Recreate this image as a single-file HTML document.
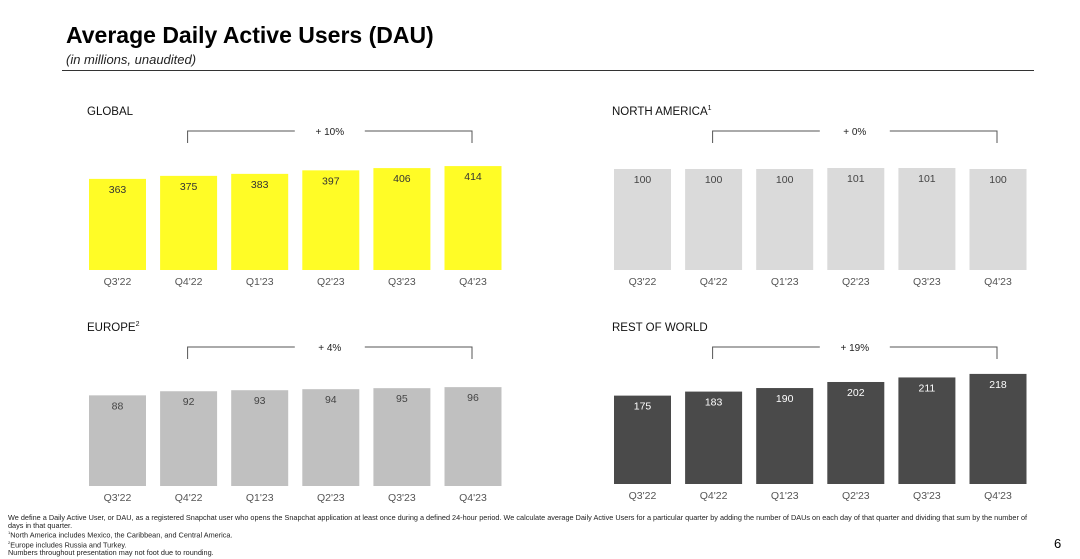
<!DOCTYPE html>
<html><head><meta charset="utf-8"><style>
body{margin:0;width:1080px;height:559px;background:#fff;font-family:"Liberation Sans",sans-serif;overflow:hidden;position:relative}
.t{position:absolute;white-space:nowrap}
</style></head><body>
<div class="t" style="left:66px;top:22px;font-size:23px;font-weight:bold;color:#000">Average Daily Active Users (DAU)</div>
<div class="t" style="left:66px;top:52px;font-size:13px;font-style:italic;color:#222">(in millions, unaudited)</div>
<div style="position:absolute;left:62px;top:70px;width:972px;height:1px;background:#333"></div>
<svg id="chart" width="1080" height="559" style="position:absolute;left:0;top:0" xmlns="http://www.w3.org/2000/svg"></svg>
<div class="t" style="left:8px;top:514px;width:1040px;font-size:7.3px;line-height:7.6px;color:#222">We define a Daily Active User, or DAU, as a registered Snapchat user who opens the Snapchat application at least once during a defined 24-hour period. We calculate average Daily Active Users for a particular quarter by adding the number of DAUs on each day of that quarter and dividing that sum by the number of<br>days in that quarter.<br><sup style="font-size:4px">1</sup>North America includes Mexico, the Caribbean, and Central America.<br><sup style="font-size:4px">2</sup>Europe includes Russia and Turkey.<br>Numbers throughout presentation may not foot due to rounding.</div>
<div class="t" style="left:1054px;top:536px;font-size:13px;color:#000">6</div>
<script>
const categories=["Q3'22","Q4'22","Q1'23","Q2'23","Q3'23","Q4'23"];
const globalValues=[363,375,383,397,406,414];
const naValues=[100,100,100,101,101,100];
const europeValues=[88,92,93,94,95,96];
const rowValues=[175,183,190,202,211,218];
const growthLabels=["+ 10%","+ 0%","+ 4%","+ 19%"];
const panelTitles=["GLOBAL","NORTH AMERICA","EUROPE","REST OF WORLD"];
const panelSup=["","1","2",""];
const svg=document.getElementById('chart');
const NS="http://www.w3.org/2000/svg";
function mk(tag,attrs,parent){const e=document.createElementNS(NS,tag);for(const k in attrs)e.setAttribute(k,attrs[k]);(parent||svg).appendChild(e);return e;}
const panels=[
 {vals:globalValues,x0:89,top:115,base:270,scale:0.251,fill:"#fffc26",tc:"#333",name:"global"},
 {vals:naValues,x0:614,top:115,base:270,scale:1.01,fill:"#dadada",tc:"#444",name:"north-america"},
 {vals:europeValues,x0:89,top:331,base:486,scale:1.03,fill:"#c0c0c0",tc:"#444",name:"europe"},
 {vals:rowValues,x0:614,top:331,base:484,scale:0.505,fill:"#4a4a4a",tc:"#fff",name:"rest-of-world"}];
const step=71.1,bw=57;
panels.forEach((p,pi)=>{
 const g=mk('g',{});
 
 
 const tx=p.x0-2, ty=p.top;
 const tt=mk('text',{x:tx,y:ty,'font-size':11.5,fill:'#111'},g);
 tt.textContent=panelTitles[pi];
 if(panelSup[pi]){const s=mk('tspan',{'font-size':7,dy:-5},tt);s.textContent=panelSup[pi];}
 
 
 const by=p.top+16, bx1=p.x0+step+bw/2-1, bx2=p.x0+5*step+bw/2-1, cx=(bx1+bx2)/2;
 const br=mk('path',{d:`M${bx1} ${by+12}V${by}H${cx-35}M${cx+35} ${by}H${bx2}V${by+12}`,stroke:'#555','stroke-width':1,fill:'none'},g);
 
 
 const gl=mk('text',{x:cx,y:by+4,'font-size':10,fill:'#222','text-anchor':'middle'},g);
 gl.textContent=growthLabels[pi];
 
 
 p.vals.forEach((v,i)=>{
  const x=p.x0+i*step,h=v*p.scale;
  const r=mk('rect',{x:x,y:p.base-h,width:bw,height:h,fill:p.fill},g);
  
  
  const l=mk('text',{x:x+bw/2,y:p.base-h+14,'font-size':10.5,fill:p.tc,'text-anchor':'middle'},g);
  l.textContent=v;
  
  
  const c=mk('text',{x:x+bw/2,y:p.base+15,'font-size':10.5,fill:'#555','text-anchor':'middle'},g);
  c.textContent=categories[i];
  
  
 });
});
</script>
</body></html>
